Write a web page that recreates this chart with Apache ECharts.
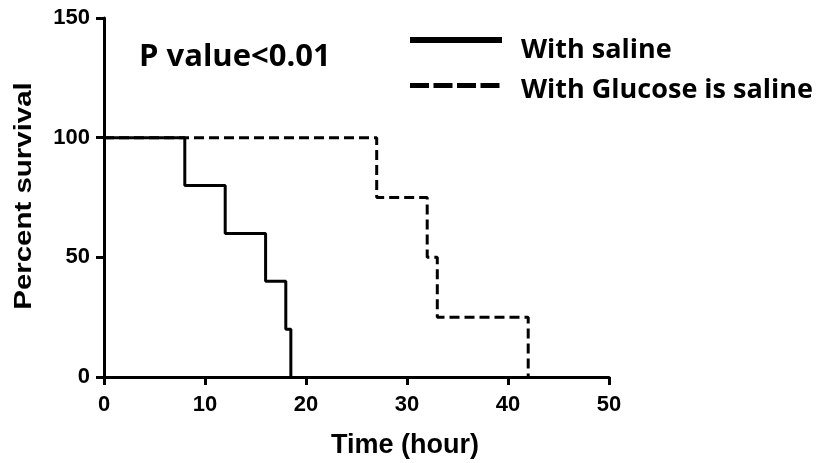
<!DOCTYPE html>
<html>
<head>
<meta charset="utf-8">
<style>
  html, body { margin: 0; padding: 0; background: #ffffff; }
  #chart { width: 818px; height: 463px; }
</style>
<script src="https://cdn.jsdelivr.net/npm/echarts@6/dist/echarts.min.js"></script>
</head>
<body>
<div id="chart"></div>
<script>
// Kaplan-Meier survival steps: time (hour) and percent survival
const salineTimes = [0, 8, 12, 16, 18, 18.5];
const salineSurvival = [100, 80, 60, 40, 20, 0];
const glucoseTimes = [0, 27, 32, 33, 42];
const glucoseSurvival = [100, 75, 50, 25, 0];

const seriesNames = ['With saline', 'With Glucose is saline'];
const xTicks = { min: 0, max: 50, interval: 10 };
const yTicks = { min: 0, max: 150, interval: 50 };
const pValueText = 'P value<0.01';
const xTitle = 'Time (hour)';
const yTitle = 'Percent survival';

const pair = (xs, ys) => xs.map((x, i) => [x, ys[i]]);

const chart = echarts.init(document.getElementById('chart'), null, { renderer: 'canvas' });

const axisFont = { color: '#000', fontFamily: 'Liberation Sans, Arial, sans-serif', fontWeight: 'bold', fontSize: 22 };
const axisLine = { show: true, lineStyle: { color: '#000', width: 3 } };
const axisTick = { show: true, inside: false, length: 8, lineStyle: { color: '#000', width: 3 } };

chart.setOption({
  backgroundColor: '#ffffff',
  animation: false,
  grid: { left: 104, right: 209, top: 18, bottom: 86, containLabel: false },
  xAxis: {
    type: 'value', min: xTicks.min, max: xTicks.max, interval: xTicks.interval,
    axisLine, axisTick,
    axisLabel: Object.assign({ margin: 17 }, axisFont),
    splitLine: { show: false }
  },
  yAxis: {
    type: 'value', min: yTicks.min, max: yTicks.max, interval: yTicks.interval,
    axisLine, axisTick,
    axisLabel: Object.assign({ margin: 14 }, axisFont),
    splitLine: { show: false }
  },
  series: [
    {
      name: seriesNames[1], type: 'line', step: 'end', showSymbol: false, symbol: 'none',
      data: pair(glucoseTimes, glucoseSurvival),
      lineStyle: { color: '#000', width: 3, type: [10, 5] }, z: 2
    },
    {
      name: seriesNames[0], type: 'line', step: 'end', showSymbol: false, symbol: 'none',
      data: pair(salineTimes, salineSurvival),
      lineStyle: { color: '#000', width: 3, type: 'solid' }, z: 3
    }
  ],
  graphic: [
    // axis titles
    {
      type: 'text', x: 25, y: 196, rotation: Math.PI / 2, scaleX: 1.28,
      style: { text: yTitle, fill: '#000', font: 'bold 23px "Liberation Sans", Arial, sans-serif', align: 'center', verticalAlign: 'middle' }
    },
    {
      type: 'text', x: 405, y: 446,
      style: { text: xTitle, fill: '#000', font: 'bold 27px "Liberation Sans", Arial, sans-serif', align: 'center', verticalAlign: 'middle' }
    },
    // annotation
    {
      type: 'text', x: 139, y: 57,
      style: { text: pValueText, fill: '#000', font: 'bold 31px "Open Sans", sans-serif', align: 'left', verticalAlign: 'middle' }
    },
    // legend
    {
      type: 'line', shape: { x1: 410, y1: 40, x2: 502, y2: 40 },
      style: { stroke: '#000', lineWidth: 6 }
    },
    {
      type: 'line', shape: { x1: 410, y1: 85.5, x2: 500, y2: 85.5 },
      style: { stroke: '#000', lineWidth: 5, lineDash: [19, 4.5] }
    },
    {
      type: 'text', x: 521, y: 50,
      style: { text: seriesNames[0], fill: '#000', font: 'bold 27px "Open Sans", sans-serif', align: 'left', verticalAlign: 'middle' }
    },
    {
      type: 'text', x: 521, y: 90,
      style: { text: seriesNames[1], fill: '#000', font: 'bold 27px "Open Sans", sans-serif', align: 'left', verticalAlign: 'middle' }
    }
  ]
});
</script>
</body>
</html>
